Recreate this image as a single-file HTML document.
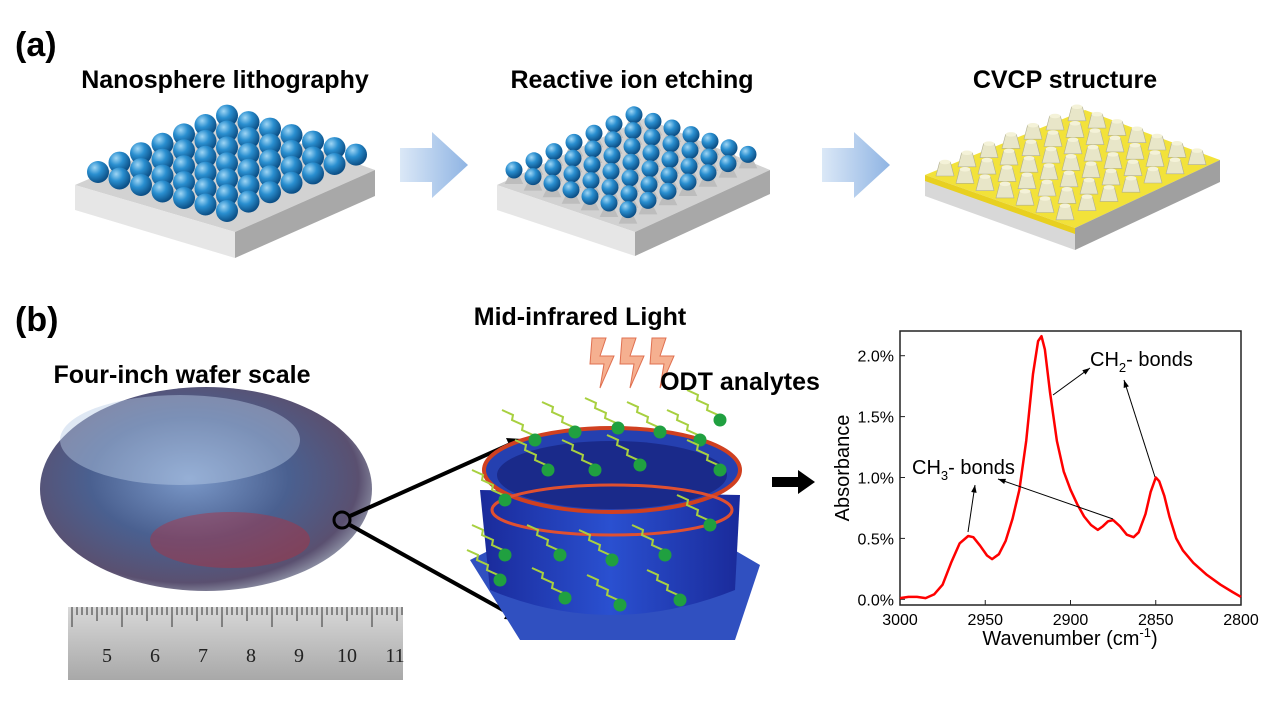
<!DOCTYPE html>
<html><head><meta charset="utf-8">
<style>
body{margin:0;background:#fff;}
svg{display:block;font-family:"Liberation Sans",Arial,sans-serif;}
</style></head>
<body>
<svg width="1269" height="706" viewBox="0 0 1269 706">
<defs>
<radialGradient id="sph" cx="0.35" cy="0.3" r="0.7"><stop offset="0" stop-color="#9fd6f5"/><stop offset="0.45" stop-color="#2a8fd0"/><stop offset="1" stop-color="#0c4f86"/></radialGradient>
<linearGradient id="arr" x1="0" x2="1"><stop offset="0" stop-color="#dbe8f7"/><stop offset="1" stop-color="#8fb4e3"/></linearGradient>
<radialGradient id="wafer" cx="0.45" cy="0.45" r="0.6"><stop offset="0" stop-color="#7a98c8"/><stop offset="0.5" stop-color="#4a6090"/><stop offset="0.85" stop-color="#5a5070"/><stop offset="1" stop-color="#a0a8b8"/></radialGradient>
<linearGradient id="cyl" x1="0" x2="1"><stop offset="0" stop-color="#1a2a9a"/><stop offset="0.5" stop-color="#2a50d0"/><stop offset="1" stop-color="#1a2a9a"/></linearGradient>
<linearGradient id="ruler" x1="0" y1="0" x2="0" y2="1"><stop offset="0" stop-color="#d8d8d8"/><stop offset="1" stop-color="#a8a8a8"/></linearGradient>
</defs>

<text x="15" y="56" font-size="34" font-weight="bold">(a)</text>
<text x="225" y="88" font-size="25" font-weight="bold" text-anchor="middle">Nanosphere lithography</text>
<text x="632" y="88" font-size="25" font-weight="bold" text-anchor="middle">Reactive ion etching</text>
<text x="1065" y="88" font-size="25" font-weight="bold" text-anchor="middle">CVCP structure</text>

<g id="b1">
<polygon points="75,185 230,118 375,170 235,232" fill="#d2d2d2"/>
<polygon points="75,185 235,232 235,258 75,210" fill="#e6e6e6"/>
<polygon points="235,232 375,170 375,196 235,258" fill="#a8a8a8"/>
</g>
<g id="s1"></g>
<polygon points="400,148 432,148 432,132 468,165 432,198 432,182 400,182" fill="url(#arr)"/>
<g>
<polygon points="497,185 645,118 770,170 635,232" fill="#d2d2d2"/>
<polygon points="497,185 635,232 635,256 497,210" fill="#e6e6e6"/>
<polygon points="635,232 770,170 770,194 635,256" fill="#a8a8a8"/>
</g>
<g id="s2"></g>
<polygon points="822,148 854,148 854,132 890,165 854,198 854,182 822,182" fill="url(#arr)"/>
<g>
<polygon points="925,175 1085,110 1220,160 1075,228" fill="#f2e23a"/>
<polygon points="925,175 1075,228 1075,250 925,196" fill="#d8d8d8"/>
<polygon points="1075,228 1220,160 1220,182 1075,250" fill="#a0a0a0"/>
<polygon points="925,175 1075,228 1075,234 925,181" fill="#e8d020"/>
</g>
<g id="s3"></g>

<text x="15" y="331" font-size="34" font-weight="bold">(b)</text>
<ellipse cx="206" cy="489" rx="166" ry="102" fill="url(#wafer)"/>
<ellipse cx="180" cy="440" rx="120" ry="45" fill="#b8cce6" opacity="0.45"/>
<ellipse cx="230" cy="540" rx="80" ry="28" fill="#b03040" opacity="0.45"/>
<text x="182" y="383" font-size="25" font-weight="bold" text-anchor="middle">Four-inch wafer scale</text>
<circle cx="342" cy="520" r="8" fill="none" stroke="#000" stroke-width="3"/>
<line x1="350" y1="516" x2="515" y2="442" stroke="#000" stroke-width="4"/>
<polygon points="522,439 506,438 512,451" fill="#000"/>
<line x1="350" y1="525" x2="512" y2="615" stroke="#000" stroke-width="4"/>
<polygon points="520,620 504,619 511,606" fill="#000"/>
<g>
<rect x="68" y="607" width="335" height="73" fill="url(#ruler)"/>
<g id="rtk"></g>
</g>

<text x="580" y="325" font-size="25" font-weight="bold" text-anchor="middle">Mid-infrared Light</text>
<g fill="#f5b090" stroke="#e07050" stroke-width="1">
<polygon points="592,338 606,338 600,356 614,356 600,388 604,364 590,364"/>
<polygon points="622,338 636,338 630,356 644,356 630,388 634,364 620,364"/>
<polygon points="652,338 666,338 660,356 674,356 660,388 664,364 650,364"/>
</g>
<g>
<polygon points="470,560 530,530 700,530 760,565 735,640 520,640" fill="#3050c0"/>
<path d="M480,490 L490,590 Q610,640 735,590 L740,495 Z" fill="url(#cyl)"/>
<ellipse cx="612" cy="470" rx="128" ry="42" fill="#2540b0" stroke="#d04020" stroke-width="4"/>
<ellipse cx="612" cy="475" rx="115" ry="34" fill="#1a2a8a"/>
<ellipse cx="612" cy="510" rx="120" ry="25" fill="none" stroke="#e05030" stroke-width="3"/>
</g>
<g id="mol"></g>
<text x="740" y="390" font-size="25" font-weight="bold" text-anchor="middle">ODT analytes</text>
<polygon points="772,477 798,477 798,470 815,482 798,494 798,487 772,487" fill="#000"/>

<g id="chart"></g>
</svg>
<script>
const NS="http://www.w3.org/2000/svg";
function mk(parent,tag,attrs){const e=document.createElementNS(NS,tag);for(const k in attrs)e.setAttribute(k,attrs[k]);parent.appendChild(e);return e;}
function grid(id,c0,cu,cv,n,r,kind){const g=document.getElementById(id);
for(let j=0;j<n;j++)for(let i=n-1;i>=0;i--){const x=c0[0]+i*cu[0]+j*cv[0],y=c0[1]+i*cu[1]+j*cv[1];
if(kind==='cone'){mk(g,'polygon',{points:`${x-r},${y} ${x+r},${y} ${x+r*0.6},${y-14} ${x-r*0.6},${y-14}`,fill:'#e8e6c8',stroke:'#b0ae90','stroke-width':0.6});mk(g,'ellipse',{cx:x,cy:y-14,rx:r*0.6,ry:r*0.25,fill:'#f4f2d8'});}
else{if(kind==='etch')mk(g,'polygon',{points:`${x-r*1.1},${y+14} ${x+r*1.1},${y+14} ${x+r*0.4},${y+2} ${x-r*0.4},${y+2}`,fill:'#bdbdbd'});
mk(g,'circle',{cx:x,cy:y,r:r,fill:'url(#sph)'});}}}
grid('s1',[98,172],[21.5,-9.4],[21.5,6.5],7,11,'s');
grid('s2',[514,170],[20,-9.2],[19,6.6],7,8.5,'etch');
grid('s3',[945,176],[22,-9.2],[20,7.3],7,9,'cone');
const rt=document.getElementById('rtk');
for(let i=0;i<=66;i++){const x=72+i*5;mk(rt,'line',{x1:x,y1:607,x2:x,y2:607+(i%10==0?20:(i%5==0?14:8)),stroke:'#333','stroke-width':1});}
const rnums=['5','6','7','8','9','10','11'];
rnums.forEach((t,i)=>{const e=mk(rt,'text',{x:107+i*48,y:662,'font-size':20,'text-anchor':'middle',fill:'#222','font-family':'Liberation Serif'});e.textContent=t;});
const mol=document.getElementById('mol');
const mols=[[535,440],[575,432],[618,428],[660,432],[700,440],[720,470],[505,500],[548,470],[595,470],[640,465],[505,555],[560,555],[612,560],[665,555],[710,525],[500,580],[565,598],[620,605],[680,600],[720,420]];
mols.forEach(p=>{let d=`M${p[0]},${p[1]}`;for(let k=1;k<=6;k++)d+=` L${p[0]-k*5+(k%2?3:-3)},${p[1]-k*5}`;mk(mol,'path',{d:d,fill:'none',stroke:'#a8d040','stroke-width':2});mk(mol,'circle',{cx:p[0],cy:p[1],r:6.5,fill:'#20a040'});});

// ===== Chart data =====
const wavenumbers=[3000,2995,2990,2985,2980,2975,2970,2965,2960,2957,2953,2949,2946,2942,2938,2934,2930,2926,2922,2919,2917,2915,2912,2908,2904,2900,2896,2892,2888,2884,2881,2878,2875,2871,2867,2863,2860,2856,2853,2850,2848,2845,2842,2838,2834,2828,2820,2812,2805,2800];
const absorbance=[0.01,0.02,0.02,0.01,0.04,0.12,0.3,0.46,0.52,0.51,0.44,0.36,0.33,0.37,0.48,0.66,0.9,1.3,1.85,2.12,2.16,2.05,1.7,1.3,1.05,0.9,0.78,0.68,0.61,0.57,0.6,0.64,0.65,0.6,0.53,0.51,0.55,0.7,0.88,1.0,0.97,0.85,0.68,0.5,0.4,0.3,0.2,0.12,0.06,0.02];
const xTicks=[3000,2950,2900,2850,2800];
const yTicks=[0,0.5,1.0,1.5,2.0];
const yTickLabels=['0.0%','0.5%','1.0%','1.5%','2.0%'];
const X0=900,X1=1241,Y0=605,Y1=331;
function xs(w){return X0+(3000-w)/200*(X1-X0);}
function ys(v){return 599.3-v*121.8;}
const ch=document.getElementById('chart');
let frame=mk(ch,'rect',{x:X0,y:Y1,width:X1-X0,height:Y0-Y1,fill:'none',stroke:'#222','stroke-width':1.5});


xTicks.forEach(t=>{const x=xs(t);mk(ch,'line',{x1:x,y1:Y0,x2:x,y2:Y0-5,stroke:'#222'});
const e=mk(ch,'text',{x:x,y:Y0+20,'font-size':16,'text-anchor':'middle'});e.textContent=t;

});
yTicks.forEach((t,i)=>{const y=ys(t);mk(ch,'line',{x1:X0,y1:y,x2:X0+5,y2:y,stroke:'#222'});
const e=mk(ch,'text',{x:X0-6,y:y+6,'font-size':16,'text-anchor':'end'});e.textContent=yTickLabels[i];

});
let xt=mk(ch,'text',{x:1070,y:645,'font-size':20,'text-anchor':'middle'});
xt.innerHTML='Wavenumber (cm<tspan dy="-8" font-size="13">-1</tspan><tspan dy="8">)</tspan>';


let yt=mk(ch,'text',{x:0,y:0,'font-size':20,'text-anchor':'middle',transform:'translate(849,468) rotate(-90)'});
yt.textContent='Absorbance';


let d='';wavenumbers.forEach((w,i)=>{d+=(i?' L':'M')+xs(w).toFixed(1)+','+ys(absorbance[i]).toFixed(1);});
let line=mk(ch,'path',{d:d,fill:'none',stroke:'#ff0000','stroke-width':2.5,'stroke-linejoin':'round'});


function arrow(x1,y1,x2,y2){mk(ch,'line',{x1:x1,y1:y1,x2:x2,y2:y2,stroke:'#000','stroke-width':1});
const a=Math.atan2(y2-y1,x2-x1),L=8;mk(ch,'polygon',{points:`${x2},${y2} ${x2-L*Math.cos(a-0.35)},${y2-L*Math.sin(a-0.35)} ${x2-L*Math.cos(a+0.35)},${y2-L*Math.sin(a+0.35)}`,fill:'#000'});}
arrow(1053,395,1090,368);arrow(1155,477,1124,380);arrow(968,532,975,485);arrow(1113,519,998,479);
let c2=mk(ch,'text',{x:1090,y:366,'font-size':20});c2.innerHTML='CH<tspan dy="6" font-size="13">2</tspan><tspan dy="-6">- bonds</tspan>';


let c3=mk(ch,'text',{x:912,y:474,'font-size':20});c3.innerHTML='CH<tspan dy="6" font-size="13">3</tspan><tspan dy="-6">- bonds</tspan>';


</script>
</body></html>
